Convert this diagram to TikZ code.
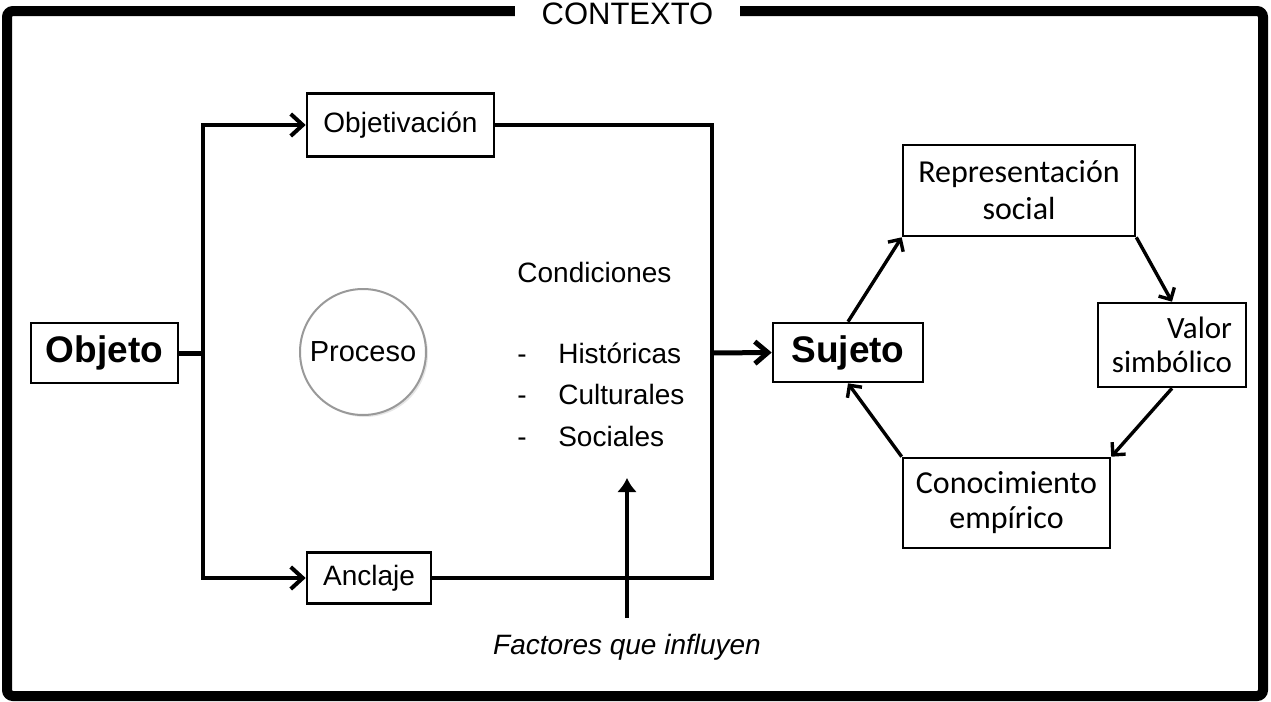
\documentclass[tikz,border=0pt]{standalone}
\usepackage{fontspec}
\setmainfont{Liberation Sans}
\newfontfamily\carlito{Carlito}
\usetikzlibrary{positioning}
\usetikzlibrary{arrows.meta}
\usetikzlibrary{shadows}
\tikzset{
    box/.style = {rectangle, draw=black, line width=1.3pt, inner sep=0pt, fill=white, font=\fontsize{14}{17}\selectfont},
    boxb/.style = {box, font=\fontsize{18.5}{22}\selectfont\bfseries},
    boxc/.style = {box, align=center, font=\carlito\fontsize{16}{18.5}\selectfont},
    circ/.style = {circle, draw=gray!80, line width=1pt, fill=white, minimum size=63pt, inner sep=0pt, font=\fontsize{14.5}{17}\selectfont, drop shadow={opacity=0.2,shadow xshift=1pt,shadow yshift=-1pt}},
    txt/.style = {inner sep=0pt, font=\fontsize{14}{17}\selectfont},
    frame/.style = {line width=5pt, rounded corners=3pt},
    edgel/.style = {line width=2pt},
    edgek/.style = {line width=2.5pt},
    edgen/.style = {-{Straight Barb[length=6pt,width=11pt]}, line width=2pt},
    edgeb/.style = {-{Straight Barb[length=6.5pt,width=11pt]}, line width=2.5pt},
    edgec/.style = {-{Straight Barb[length=4.5pt,width=9pt]}, line width=1.7pt},
    edgeu/.style = {-{Latex[length=7pt,width=10pt]}, line width=1.8pt},
}
\newcommand{\D}[1]{-\hspace{15.8pt}#1}

\begin{document}
\begin{tikzpicture}[x=0.5pt,y=-0.5pt]
\useasboundingbox (0,0) rectangle (1271,702);
\draw[frame] (7,11) rectangle (1263,696);
\node[txt, fill=white, minimum width=112.5pt, minimum height=14pt, font=\fontsize{15.5}{18}\selectfont] at (627.5,14) (ctx) {CONTEXTO};
%
\node[boxb, minimum width=73.5pt, minimum height=30pt] at (104.5,353) (obj) {Objeto};
\node[box, minimum width=93.5pt, minimum height=31.5pt] at (400.5,125) (objv) {Objetivación};
\node[box, minimum width=62pt, minimum height=25.5pt] at (369,578) (ancl) {Anclaje};
\node[circ] at (363,352) (proc) {Proceso};
\node[boxb, minimum width=75pt, minimum height=29.5pt] at (848,352.5) (suj) {Sujeto};
\node[boxc, minimum width=116pt, minimum height=45.5pt] at (1019,190.5) (rep) {Representación\\social};
\node[boxc, align=right, minimum width=74pt, minimum height=42pt, font=\carlito\fontsize{15.5}{17}\selectfont] at (1172,345) (val) {Valor\\simbólico};
\node[boxc, minimum width=103.5pt, minimum height=45pt, font=\carlito\fontsize{16}{17.5}\selectfont] at (1006.5,503) (con) {Conocimiento\\empírico};
%
\node[txt, anchor=base west] at (517,282) (cond) {Condiciones};
\node[txt, anchor=base west] at (517,363) (hist) {\D{Históricas}};
\node[txt, anchor=base west] at (517,404) (cult) {\D{Culturales}};
\node[txt, anchor=base west] at (517,446) (soc) {\D{Sociales}};
\node[txt, font=\fontsize{14}{17}\selectfont\itshape] at (627,647) (fact) {Factores que influyen};
%
\coordinate (cl) at (203,353);
\coordinate (cr) at (712,353);
\coordinate (fb) at (627,618);
\coordinate (ft) at (627,478);
\draw[edgek] (obj) -- (cl);
\draw[edgen] (cl) |- (objv.west);
\draw[edgen] (cl) |- (ancl.west);
\draw[edgel] (objv.east) -| (cr);
\draw[edgel] (ancl.east) -| (cr);
\draw[edgeb] (cr) -- (suj.west);
\draw[edgeu] (fb) -- (ft);
%
\draw[edgec] (suj.north) -- (rep.south west);
\draw[edgec] (rep.south east) -- (val.north);
\draw[edgec] (val.south) -- (con.north east);
\draw[edgec] (con.north west) -- (suj.south);

\end{tikzpicture}
\end{document}
